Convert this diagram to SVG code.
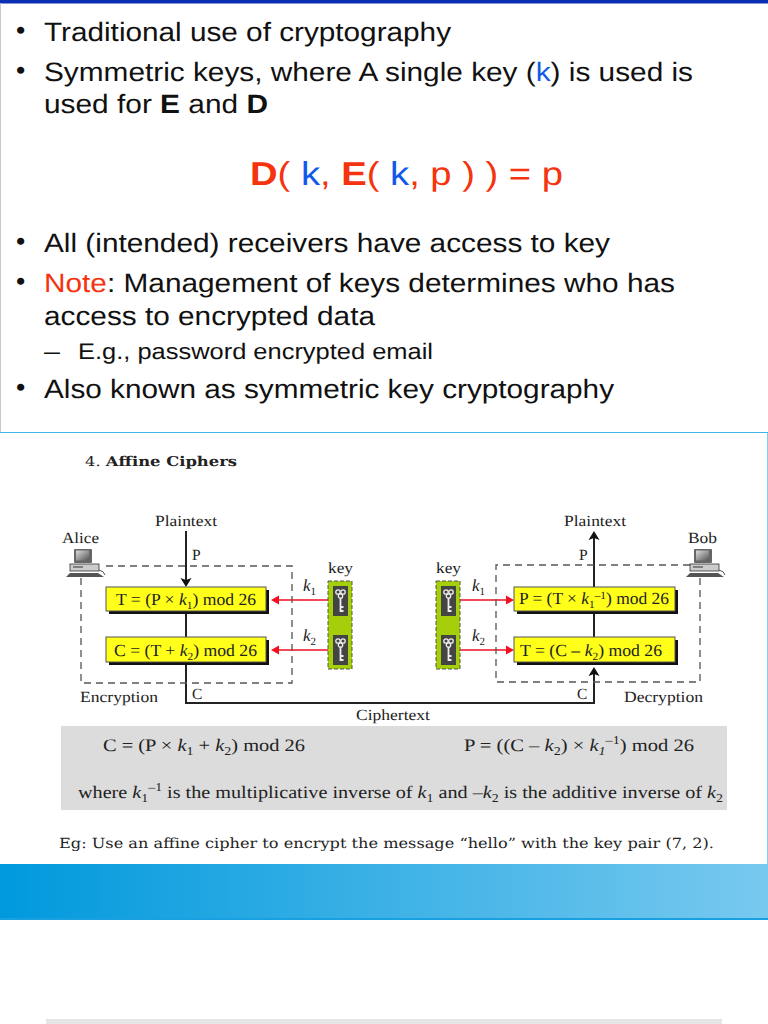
<svg xmlns="http://www.w3.org/2000/svg" width="768" height="1024" viewBox="0 0 768 1024">
<style>
text{text-rendering:geometricPrecision}
.a{font-family:"Liberation Sans",Arial,sans-serif;font-size:26.5px;fill:#111}
.s{font-family:"Liberation Serif","Times New Roman",serif;font-size:15.5px;fill:#222}
.x{font-family:"Liberation Serif","Times New Roman",serif;font-size:17px;fill:#222}
.f{font-family:"Liberation Serif","Times New Roman",serif;font-size:17.5px;fill:#222}
.m{font-family:"DejaVu Serif",serif;font-size:14px;fill:#222}
.b{fill:#1259e8}.r{fill:#f5330f}
.y{fill:#ffff19;stroke:#555;stroke-width:1}
.sh{fill:#111}
.d{fill:none;stroke:#555;stroke-width:1.3;stroke-dasharray:7 5}
.bl{fill:none;stroke:#222;stroke-width:2}
.rd{fill:none;stroke:#f01020;stroke-width:1.6}
.i{font-style:italic}
</style>
<defs>
<linearGradient id="g"><stop offset="0" stop-color="#0099dd"/><stop offset="1" stop-color="#78c9ef"/></linearGradient>
<linearGradient id="scr" x2="1" y2="1"><stop offset="0" stop-color="#ddd"/><stop offset="1" stop-color="#555"/></linearGradient>
<g id="pc"><rect x="8" y="0" width="18" height="14" rx="1" fill="#666"/><rect x="10" y="1.5" width="13" height="10" fill="url(#scr)"/><rect x="4" y="15" width="29" height="7" fill="#ccc" stroke="#333" stroke-width=".8"/><path d="M7 18h10" stroke="#333"/><path d="M0 28L4 24H32L38 28Z" fill="#555"/><path d="M33 21q5 1 6 5" fill="none" stroke="#555"/></g>
<g id="kk"><rect x="0" y="0" width="15" height="30" fill="#444"/><g fill="none" stroke="#eee" stroke-width="1.3"><circle cx="5" cy="6" r="2.2"/><circle cx="10" cy="6" r="2.2"/><circle cx="7.5" cy="10" r="2.2"/></g><path d="M7.5 12V26M7.5 21h3M7.5 25h3" fill="none" stroke="#eee" stroke-width="1.8"/></g>
</defs>
<rect width="768" height="1024" fill="#fff"/>
<g id="slide">
<rect x="0" y="0" width="768" height="3.5" fill="#0a2fb4"/>
<path d="M0.5 3V432" fill="none" stroke="#c8c8c8"/>
<path d="M0 432.5H768" fill="none" stroke="#3fb4e8"/>
<path d="M767.5 433V864" fill="none" stroke="#7fd0ee"/>
<g class="a">
<text x="16" y="39">•</text><text x="44" y="41" textLength="407" lengthAdjust="spacingAndGlyphs">Traditional use of cryptography</text>
<text x="16" y="79">•</text><text x="44" y="81" textLength="649" lengthAdjust="spacingAndGlyphs">Symmetric keys, where A single key (<tspan class="b">k</tspan>) is used is</text>
<text x="44" y="113" textLength="224" lengthAdjust="spacingAndGlyphs">used for <tspan font-weight="bold">E</tspan> and <tspan font-weight="bold">D</tspan></text>
<text x="250" y="185" style="font-size:33px" class="r" textLength="313" lengthAdjust="spacingAndGlyphs"><tspan font-weight="bold">D</tspan>( <tspan class="b">k</tspan>, <tspan font-weight="bold">E</tspan>( <tspan class="b">k</tspan>, p ) ) = p</text>
<text x="16" y="250">•</text><text x="44" y="252" textLength="566" lengthAdjust="spacingAndGlyphs">All (intended) receivers have access to key</text>
<text x="16" y="290">•</text><text x="44" y="292" textLength="631" lengthAdjust="spacingAndGlyphs"><tspan class="r">Note</tspan>: Management of keys determines who has</text>
<text x="44" y="325" textLength="331" lengthAdjust="spacingAndGlyphs">access to encrypted data</text>
<text x="44" y="359" style="font-size:22.5px" textLength="16" lengthAdjust="spacingAndGlyphs">–</text>
<text x="78" y="359" style="font-size:22.5px" textLength="355" lengthAdjust="spacingAndGlyphs">E.g., password encrypted email</text>
<text x="16" y="396">•</text><text x="44" y="398" textLength="570" lengthAdjust="spacingAndGlyphs">Also known as symmetric key cryptography</text>
</g></g>
<text class="m" x="85" y="466" style="font-size:13.5px" textLength="152" lengthAdjust="spacingAndGlyphs">4. <tspan font-weight="bold">Affine Ciphers</tspan></text>
<g id="formula-panel"><rect x="61" y="726" width="666" height="84" fill="#dcdcdc"/>
<text class="f" x="103" y="751" textLength="202" lengthAdjust="spacingAndGlyphs">C = (P × <tspan class="i">k</tspan><tspan font-size="12" dy="4">1</tspan><tspan dy="-4"> + </tspan><tspan class="i">k</tspan><tspan font-size="12" dy="4">2</tspan><tspan dy="-4">) mod 26</tspan></text>
<text class="f" x="464" y="751" textLength="230" lengthAdjust="spacingAndGlyphs">P = ((C – <tspan class="i">k</tspan><tspan font-size="12" dy="4">2</tspan><tspan dy="-4">) × </tspan><tspan class="i">k</tspan><tspan font-size="12" dy="4" class="i">1</tspan><tspan font-size="12" dy="-11">–1</tspan><tspan dy="7">) mod 26</tspan></text>
<text class="f" x="78" y="798" textLength="645" lengthAdjust="spacingAndGlyphs">where <tspan class="i">k</tspan><tspan font-size="12" dy="4">1</tspan><tspan font-size="12" dy="-11">–1</tspan><tspan dy="7"> is the multiplicative inverse of </tspan><tspan class="i">k</tspan><tspan font-size="12" dy="4">1</tspan><tspan dy="-4"> and –</tspan><tspan class="i">k</tspan><tspan font-size="12" dy="4">2</tspan><tspan dy="-4"> is the additive inverse of </tspan><tspan class="i">k</tspan><tspan font-size="12" dy="4">2</tspan></text>
</g>
<text class="m" x="59" y="848" style="font-size:14px" textLength="655" lengthAdjust="spacingAndGlyphs">Eg: Use an affine cipher to encrypt the message “hello” with the key pair (7, 2).</text>
<rect id="band" x="0" y="864" width="768" height="56" fill="url(#g)"/>
<rect x="0" y="918" width="768" height="2" fill="#18a0e0"/>
<rect id="next-page" x="46" y="1019" width="676" height="5" fill="#e6e6e6"/>
<g id="connectors">
<path class="bl" d="M186 531V582M186 612V637M186 662V703H594V672M594 637V612M594 587V536"/>
<path d="M186 587l-5.500-9 5.500 2 5.500-2Z" fill="#111"/><path d="M594 531l-5.500 9 5.500-2 5.500 2Z" fill="#111"/><path d="M594 667l-5.500 9 5.500-2 5.500 2Z" fill="#111"/>
<path class="rd" d="M333 600H276M333 650H276M451 600H510M451 650H510"/>
<path d="M271 600l8-4.500v9Z" fill="#f01020"/><path d="M271 650l8-4.500v9Z" fill="#f01020"/><path d="M514 600l-8-4.500v9Z" fill="#f01020"/><path d="M514 650l-8-4.500v9Z" fill="#f01020"/>
</g>
<g id="encryption"><path class="d" d="M106 566H292V683H81V578"/><text class="s" x="80" y="702" textLength="78" lengthAdjust="spacingAndGlyphs">Encryption</text></g>
<g id="decryption"><path class="d" d="M690 565H496V682H700V578"/><text class="s" x="624" y="702" textLength="79" lengthAdjust="spacingAndGlyphs">Decryption</text></g>
<g id="alice"><use href="#pc" x="66" y="549"/><text class="s" x="62" y="543" textLength="37" lengthAdjust="spacingAndGlyphs">Alice</text></g>
<g id="bob"><use href="#pc" x="686" y="549"/><text class="s" x="688" y="543" textLength="29" lengthAdjust="spacingAndGlyphs">Bob</text></g>
<g id="t-box"><rect class="sh" x="109" y="590" width="160" height="24"/><rect class="y" x="106" y="587" width="160" height="24"/><text class="x" x="116" y="605" textLength="140" lengthAdjust="spacingAndGlyphs">T = (P × <tspan class="i">k</tspan><tspan font-size="11" dy="4">1</tspan><tspan dy="-4">) mod 26</tspan></text></g>
<g id="c-box"><rect class="sh" x="109" y="640" width="160" height="25"/><rect class="y" x="106" y="637" width="160" height="25"/><text class="x" x="114" y="656" textLength="143" lengthAdjust="spacingAndGlyphs">C = (T + <tspan class="i">k</tspan><tspan font-size="11" dy="4">2</tspan><tspan dy="-4">) mod 26</tspan></text></g>
<g id="p-box"><rect class="sh" x="517" y="590" width="161" height="24"/><rect class="y" x="514" y="587" width="161" height="24"/><text class="x" x="519" y="604" textLength="150" lengthAdjust="spacingAndGlyphs">P = (T × <tspan class="i">k</tspan><tspan font-size="11" dy="4">1</tspan><tspan font-size="11" dy="-9">–1</tspan><tspan dy="5">) mod 26</tspan></text></g>
<g id="t2-box"><rect class="sh" x="517" y="640" width="161" height="25"/><rect class="y" x="514" y="637" width="161" height="25"/><text class="x" x="520" y="656" textLength="142" lengthAdjust="spacingAndGlyphs">T = (C – <tspan class="i">k</tspan><tspan font-size="11" dy="4">2</tspan><tspan dy="-4">) mod 26</tspan></text></g>
<g id="key-left"><rect x="328" y="581" width="24" height="88" fill="#a4cf0a" stroke="#555" stroke-dasharray="4 2"/><use href="#kk" x="333" y="586"/><use href="#kk" x="333" y="635"/><text class="s" x="328" y="573" textLength="25" lengthAdjust="spacingAndGlyphs">key</text></g>
<g id="key-right"><rect x="436" y="581" width="24" height="88" fill="#a4cf0a" stroke="#555" stroke-dasharray="4 2"/><use href="#kk" x="441" y="586"/><use href="#kk" x="441" y="635"/><text class="s" x="436" y="573" textLength="25" lengthAdjust="spacingAndGlyphs">key</text></g>
<g id="labels">
<text class="s" x="155" y="526" textLength="62" lengthAdjust="spacingAndGlyphs">Plaintext</text><text class="s" x="564" y="526" textLength="62" lengthAdjust="spacingAndGlyphs">Plaintext</text><text class="s" x="356" y="720" textLength="74" lengthAdjust="spacingAndGlyphs">Ciphertext</text>
<text class="s" x="192" y="560">P</text><text class="s" x="579" y="560">P</text><text class="s" x="192" y="699">C</text><text class="s" x="577" y="699">C</text>
<text class="x i" x="303" y="591">k<tspan font-size="11" dy="4" font-style="normal">1</tspan></text><text class="x i" x="303" y="641">k<tspan font-size="11" dy="4" font-style="normal">2</tspan></text>
<text class="x i" x="472" y="591">k<tspan font-size="11" dy="4" font-style="normal">1</tspan></text><text class="x i" x="472" y="641">k<tspan font-size="11" dy="4" font-style="normal">2</tspan></text>
</g>
</svg>
